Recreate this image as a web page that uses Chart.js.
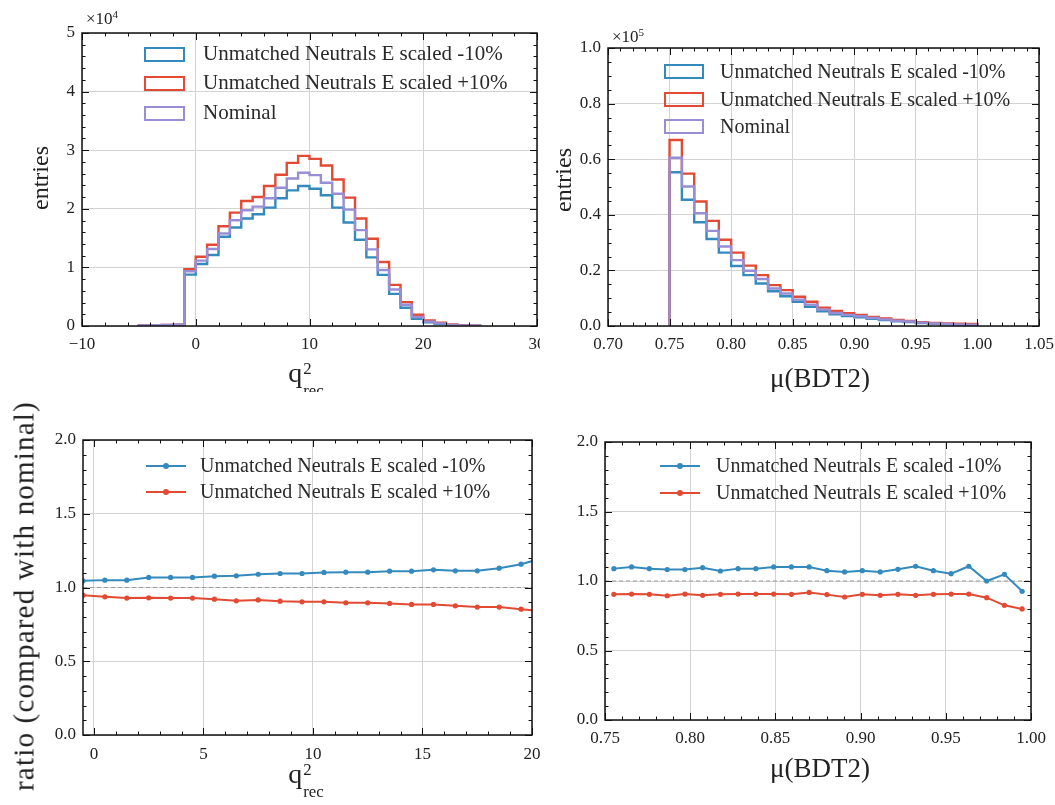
<!DOCTYPE html>
<html><head><meta charset="utf-8">
<script src="https://cdn.jsdelivr.net/npm/chart.js@4.4.1/dist/chart.umd.min.js"></script>
<style>
html,body{margin:0;padding:0;background:#fff}
body{width:1055px;height:805px;position:relative;overflow:hidden;font-family:'Liberation Serif','DejaVu Serif',serif;color:#222}
canvas{position:absolute;display:block}
.t{position:absolute;white-space:nowrap;transform:translate(-50%,-50%);line-height:1}
.rot{transform:translate(-50%,-50%) rotate(-90deg)}
.ss{display:inline-flex;flex-direction:column;font-size:0.6em;line-height:1.3;vertical-align:0.45em;margin-left:1px}
.leg{position:absolute;white-space:nowrap;line-height:1;color:#2a2a2a}
.clip{position:absolute;overflow:hidden}
</style></head>
<body>
<canvas id="tl"></canvas>
<canvas id="tr"></canvas>
<canvas id="bl"></canvas>
<canvas id="br"></canvas>

<div class="t" style="left:102px;top:18px;font-size:17px">×10<sup style="font-size:11px">4</sup></div>
<div class="t" style="left:628px;top:36px;font-size:17px">×10<sup style="font-size:11px">5</sup></div>

<div class="t rot" style="left:40px;top:178px;font-size:24px">entries</div>
<div class="t rot" style="left:563px;top:180px;font-size:24px">entries</div>
<div class="t rot" style="left:24px;top:596px;font-size:29px;letter-spacing:1.2px">ratio (compared with nominal)</div>

<div class="clip" style="left:0;top:0;width:1055px;height:392px">
  <div class="t" style="left:306px;top:380px;font-size:28px">q<span class="ss"><span>2</span><span>rec</span></span></div>
  <div class="t" style="left:820px;top:378px;font-size:27px">μ(BDT2)</div>
</div>
<div class="t" style="left:306px;top:781px;font-size:28px">q<span class="ss"><span>2</span><span>rec</span></span></div>
<div class="t" style="left:820px;top:768px;font-size:27px">μ(BDT2)</div>

<div id="legends"></div>

<script>
// ---------------- DATA ----------------
const SERIES_LABELS = ['Unmatched Neutrals E scaled -10%', 'Unmatched Neutrals E scaled +10%', 'Nominal'];
const SERIES_COLORS = ['#348ABD', '#E24A33', '#988ED5'];

// top-left: q2_rec histogram (entries)
const TL_BIN_EDGES = [-5,-4,-3,-2,-1,0,1,2,3,4,5,6,7,8,9,10,11,12,13,14,15,16,17,18,19,20,21,22,23,24,25];
const TL_MINUS10 = [80,120,150,200,8770,10580,12110,15220,16810,18340,19070,20200,21790,23150,23880,23430,22300,20200,17660,14710,11710,8720,5490,3110,1250,620,340,150,80,40];
const TL_PLUS10  = [90,130,170,220,9680,11830,13870,17030,19350,21340,22010,23880,25800,27840,29030,28520,27390,25010,21900,18340,14880,10920,7020,4070,1920,960,570,250,120,60];
const TL_NOMINAL = [85,125,160,210,9340,11150,13130,15790,18050,19750,20370,21790,23600,25180,26150,25750,24450,22580,19860,16360,13070,9560,6230,3620,1530,740,450,200,100,50];
const TL_X_TICKS = [-10,0,10,20,30];
const TL_Y_TICKS = [0,10000,20000,30000,40000,50000];

// top-right: mu(BDT2) histogram (entries)
const TR_BIN_EDGES = [0.75,0.76,0.77,0.78,0.79,0.80,0.81,0.82,0.83,0.84,0.85,0.86,0.87,0.88,0.89,0.90,0.91,0.92,0.93,0.94,0.95,0.96,0.97,0.98,0.99,1.00];
const TR_MINUS10 = [55300,45400,37300,31300,26400,21600,18300,15300,12500,10700,8700,6900,5300,4200,3600,3100,2600,2100,1700,1400,1100,800,600,500,400];
const TR_PLUS10  = [66900,54800,44800,37800,31000,26400,21700,18300,14700,12900,10500,8700,6600,5400,4600,4000,3300,2700,2200,1800,1400,1100,900,800,700];
const TR_NOMINAL = [60500,50200,40600,34200,28600,23700,19900,16900,13500,11700,9500,7700,5900,4700,4000,3500,2900,2400,1900,1600,1200,900,700,600,500];
const TR_X_TICKS = [0.70,0.75,0.80,0.85,0.90,0.95,1.00,1.05];
const TR_Y_TICKS = [0,20000,40000,60000,80000,100000];

// bottom-left: ratio vs q2_rec
const BL_X = [-0.5,0.5,1.5,2.5,3.5,4.5,5.5,6.5,7.5,8.5,9.5,10.5,11.5,12.5,13.5,14.5,15.5,16.5,17.5,18.5,19.5,20.5];
const BL_MINUS10 = [1.045,1.050,1.050,1.068,1.068,1.068,1.077,1.079,1.090,1.095,1.095,1.102,1.104,1.104,1.111,1.111,1.120,1.113,1.113,1.131,1.158,1.200];
const BL_PLUS10  = [0.948,0.937,0.928,0.930,0.928,0.928,0.921,0.910,0.916,0.907,0.903,0.903,0.896,0.896,0.892,0.885,0.885,0.876,0.867,0.867,0.853,0.840];
const BL_X_TICKS = [0,5,10,15,20];

// bottom-right: ratio vs mu(BDT2)
const BR_X = [0.7552,0.7656,0.7760,0.7865,0.7969,0.8073,0.8177,0.8281,0.8385,0.8490,0.8594,0.8698,0.8802,0.8906,0.9010,0.9115,0.9219,0.9323,0.9427,0.9531,0.9635,0.9740,0.9844,0.9948];
const BR_MINUS10 = [1.089,1.101,1.089,1.082,1.082,1.096,1.072,1.089,1.089,1.101,1.101,1.101,1.074,1.065,1.074,1.065,1.084,1.106,1.074,1.053,1.106,1.000,1.048,0.926];
const BR_PLUS10  = [0.904,0.906,0.904,0.894,0.906,0.897,0.904,0.906,0.906,0.906,0.904,0.918,0.902,0.885,0.904,0.897,0.904,0.897,0.904,0.906,0.906,0.880,0.825,0.799];
const BR_X_TICKS = [0.75,0.80,0.85,0.90,0.95,1.00];
const RATIO_Y_TICKS = [0,0.5,1.0,1.5,2.0];
const RATIO_REF = 1.0;

// ---------------- RENDERING ----------------
Chart.defaults.font.family = "'Liberation Serif','DejaVu Serif',serif";
Chart.defaults.font.size = 17;
Chart.defaults.color = '#222';
const GRID = '#d3d3d3';

function histPoints(edges, vals){
  const pts = [{x: edges[0], y: 0}];
  vals.forEach((v, i) => { pts.push({x: edges[i], y: v}); pts.push({x: edges[i+1], y: v}); });
  pts.push({x: edges[edges.length-1], y: 0});
  return pts;
}
function xyPoints(xs, ys){ return xs.map((x, i) => ({x, y: ys[i]})); }

const mplFrame = {
  id: 'mplFrame',
  afterDraw(chart, args, opts){
    const {ctx, chartArea: a} = chart;
    const xs = chart.scales.x, ys = chart.scales.y;
    ctx.save();
    ctx.strokeStyle = '#111';
    ctx.lineWidth = 1;
    const line = (x1, y1, x2, y2) => { ctx.beginPath(); ctx.moveTo(x1, y1); ctx.lineTo(x2, y2); ctx.stroke(); };
    const minors = (s, step) => { const out = []; const n0 = Math.ceil(s.min/step - 1e-6), n1 = Math.floor(s.max/step + 1e-6); for (let i = n0; i <= n1; i++) out.push(i*step); return out; };
    const L = a.left, R = a.right, T = a.top, B = a.bottom;
    minors(xs, opts.xMinor).forEach(v => { const p = Math.round(xs.getPixelForValue(v)) + 0.5; line(p, B, p, B-3.5); line(p, T, p, T+3.5); });
    minors(ys, opts.yMinor).forEach(v => { const p = Math.round(ys.getPixelForValue(v)) + 0.5; line(L, p, L+3.5, p); line(R, p, R-3.5, p); });
    xs.ticks.forEach(t => { const p = Math.round(xs.getPixelForValue(t.value)) + 0.5; line(p, B, p, B-7); line(p, T, p, T+7); });
    ys.ticks.forEach(t => { const p = Math.round(ys.getPixelForValue(t.value)) + 0.5; line(L, p, L+7, p); line(R, p, R-7, p); });
    ctx.lineWidth = 1.5;
    ctx.strokeRect(L, T, R-L, B-T);
    ctx.restore();
  }
};

function panel(id, box, area, xs, ys, datasets, minor){
  const cv = document.getElementById(id);
  cv.width = box.w; cv.height = box.h;
  Object.assign(cv.style, {left: box.x+'px', top: box.y+'px', width: box.w+'px', height: box.h+'px'});
  const yW = area.l - box.x, padTop = area.t - box.y, padRight = box.x + box.w - area.r, xH = box.y + box.h - area.b;
  const grid = {color: GRID, lineWidth: 1, drawTicks: false};
  return new Chart(cv, {
    type: 'line',
    data: {datasets},
    options: {
      responsive: false, animation: false, events: [],
      layout: {padding: {left: 0, top: padTop, right: padRight, bottom: 0}},
      plugins: {legend: {display: false}, tooltip: {enabled: false}, mplFrame: minor},
      elements: {line: {tension: 0}},
      scales: {
        x: {type: 'linear', min: xs.min, max: xs.max, border: {display: false}, grid,
            ticks: {padding: xs.pad, maxRotation: 0, autoSkip: false, callback: xs.fmt},
            afterBuildTicks(s){ s.ticks = xs.ticks.map(v => ({value: v})); },
            afterFit(s){ s.height = xH; s.paddingLeft = 0; s.paddingRight = 0; }},
        y: {type: 'linear', min: ys.min, max: ys.max, border: {display: false}, grid,
            ticks: {padding: ys.pad, autoSkip: false, callback: ys.fmt},
            afterBuildTicks(s){ s.ticks = ys.ticks.map(v => ({value: v})); },
            afterFit(s){ s.width = yW; s.paddingTop = 0; s.paddingBottom = 0; }}
      }
    },
    plugins: [mplFrame]
  });
}

function histSets(edges, minus, plus, nominal){
  const mk = (vals, i) => ({label: SERIES_LABELS[i], data: histPoints(edges, vals), borderColor: SERIES_COLORS[i], borderWidth: 2.4, pointRadius: 0, fill: false, borderJoinStyle: 'miter'});
  return [mk(nominal, 2), mk(plus, 1), mk(minus, 0)];
}
function ratioSets(xs, minus, plus, xmin, xmax){
  const mk = (vals, i) => ({label: SERIES_LABELS[i], data: xyPoints(xs, vals), borderColor: SERIES_COLORS[i], backgroundColor: SERIES_COLORS[i], borderWidth: 2, pointRadius: 2.6, pointBorderWidth: 0, pointBackgroundColor: SERIES_COLORS[i]});
  return [mk(minus, 0), mk(plus, 1),
    {label: 'ref', data: [{x: xmin, y: RATIO_REF}, {x: xmax, y: RATIO_REF}], borderColor: '#9a9a9a', borderWidth: 1, borderDash: [4, 3], pointRadius: 0}];
}

const fmtInt = v => String(Math.round(v));
const fmt2 = v => v.toFixed(2);
const fmt1 = v => v.toFixed(1);

panel('tl', {x: 0, y: 0, w: 540, h: 392}, {l: 82, t: 33, r: 537, b: 326},
  {min: -10, max: 30, ticks: TL_X_TICKS, fmt: v => (v < 0 ? '\u2212' : '') + Math.abs(v), pad: 8},
  {min: 0, max: 50000, ticks: TL_Y_TICKS, fmt: v => fmtInt(v/1e4), pad: 7},
  histSets(TL_BIN_EDGES, TL_MINUS10, TL_PLUS10, TL_NOMINAL), {xMinor: 2, yMinor: 2000});

panel('tr', {x: 540, y: 0, w: 515, h: 392}, {l: 608, t: 48, r: 1039, b: 326},
  {min: 0.70, max: 1.05, ticks: TR_X_TICKS, fmt: fmt2, pad: 8},
  {min: 0, max: 100000, ticks: TR_Y_TICKS, fmt: v => (v/1e5).toFixed(1), pad: 7},
  histSets(TR_BIN_EDGES, TR_MINUS10, TR_PLUS10, TR_NOMINAL), {xMinor: 0.01, yMinor: 5000});

panel('bl', {x: 0, y: 392, w: 545, h: 413}, {l: 83, t: 440, r: 532, b: 735},
  {min: -0.5, max: 20, ticks: BL_X_TICKS, fmt: fmtInt, pad: 9},
  {min: 0, max: 2, ticks: RATIO_Y_TICKS, fmt: fmt1, pad: 7},
  ratioSets(BL_X, BL_MINUS10, BL_PLUS10, -0.5, 20), {xMinor: 1, yMinor: 0.1});

panel('br', {x: 545, y: 392, w: 510, h: 413}, {l: 605, t: 442, r: 1031, b: 720},
  {min: 0.75, max: 1.00, ticks: BR_X_TICKS, fmt: fmt2, pad: 8},
  {min: 0, max: 2, ticks: RATIO_Y_TICKS, fmt: fmt1, pad: 7},
  ratioSets(BR_X, BR_MINUS10, BR_PLUS10, 0.75, 1.00), {xMinor: 0.01, yMinor: 0.1});

// ---------------- LEGENDS (HTML) ----------------
function legend(cfg){
  const host = document.getElementById('legends');
  cfg.rows.forEach((cy, i) => {
    const c = SERIES_COLORS[i];
    const h = document.createElement('div');
    h.style.position = 'absolute';
    if (cfg.kind === 'box') {
      Object.assign(h.style, {left: cfg.hx+'px', top: (cy-8)+'px', width: (cfg.hw-5)+'px', height: '11px', border: '2.5px solid '+c});
    } else {
      Object.assign(h.style, {left: cfg.hx+'px', top: (cy-1)+'px', width: cfg.hw+'px', height: '2px', background: c});
      const d = document.createElement('div');
      Object.assign(d.style, {position: 'absolute', left: (cfg.hw/2-3)+'px', top: '-2px', width: '6px', height: '6px', borderRadius: '50%', background: c});
      h.appendChild(d);
    }
    host.appendChild(h);
    const t = document.createElement('div');
    t.className = 'leg';
    t.textContent = SERIES_LABELS[i];
    Object.assign(t.style, {left: cfg.tx+'px', top: (cy - cfg.fs*0.55)+'px', fontSize: cfg.fs+'px'});
    host.appendChild(t);
  });
}
legend({kind: 'box', rows: [55, 84, 114], hx: 144, hw: 42, tx: 203, fs: 21});
legend({kind: 'box', rows: [72, 100, 127], hx: 664, hw: 41, tx: 720, fs: 20});
legend({kind: 'line', rows: [466, 492], hx: 146, hw: 40, tx: 200, fs: 20});
legend({kind: 'line', rows: [466, 493], hx: 660, hw: 40, tx: 716, fs: 20});
</script>
</body></html>
